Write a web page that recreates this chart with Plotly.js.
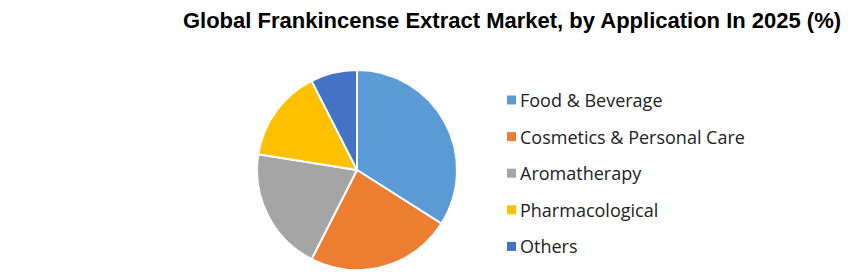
<!DOCTYPE html>
<html><head><meta charset="utf-8">
<script src="https://cdn.plot.ly/plotly-3.0.1.min.js"></script>
<style>html,body{margin:0;padding:0;background:#fff}#c{width:851px;height:279px}</style>
</head><body><div id="c"></div>
<script>
var labels = ["Food & Beverage", "Cosmetics & Personal Care", "Aromatherapy", "Pharmacological", "Others"];
var values = [34, 23.5, 20, 15, 7.5];
var colors = ["#5B9BD5", "#ED7D31", "#A5A5A5", "#FFC000", "#4472C4"];

var W = 851, H = 279;
var shapes = [], annotations = [];
var legX = 507, legY0 = 100, legStep = 36.6, sq = 9;
labels.forEach(function(l, i){
  var y = legY0 + i*legStep;
  shapes.push({type:"rect", xref:"paper", yref:"paper",
    x0: legX/W, x1: (legX+sq)/W, y0: 1-(y+sq/2)/H, y1: 1-(y-sq/2)/H,
    fillcolor: colors[i], line:{width:0}});
  annotations.push({text: l, xref:"paper", yref:"paper", x:(legX+11)/W, y:1-y/H,
    xanchor:"left", yanchor:"middle", showarrow:false,
    font:{family:"Open Sans, Liberation Sans, sans-serif", size:18, color:"#222"}});
});

var data = [{
  type:"pie", labels: labels, values: values, sort:false, direction:"clockwise", rotation:0,
  marker:{colors: colors, line:{color:"#ffffff", width:2}},
  textinfo:"none", hoverinfo:"label+percent", showlegend:false,
  domain:{x:[257/W, 457/W], y:[1-270/H, 1-70/H]}
}];
var layout = {
  width:W, height:H, margin:{l:0,r:0,t:0,b:0}, paper_bgcolor:"#fff",
  title:{text:"<b>Global Frankincense Extract Market, by Application In 2025 (%)</b>",
    x:512/W, xanchor:"center", y:1-20/H, yanchor:"middle",
    font:{family:"Liberation Sans, sans-serif", size:22, color:"#000"}},
  shapes: shapes, annotations: annotations
};
Plotly.newPlot("c", data, layout, {displayModeBar:false});
</script></body></html>
